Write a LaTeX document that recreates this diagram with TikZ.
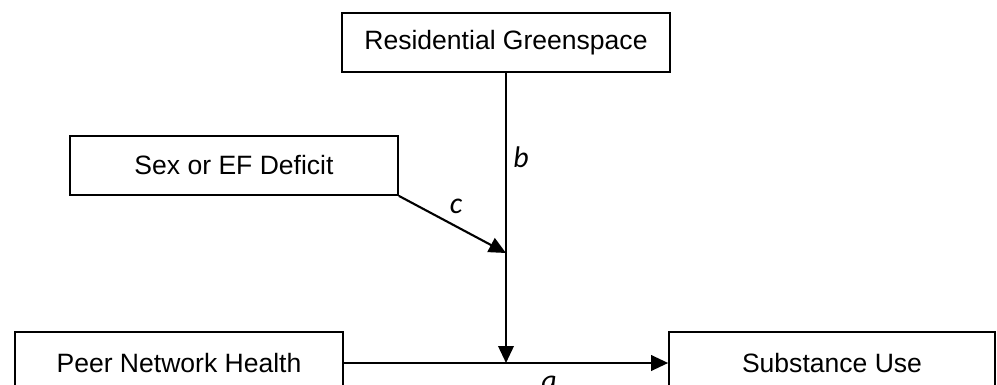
\documentclass[tikz,border=0pt]{standalone}
\usepackage{fontspec}
\setmainfont{Liberation Sans}
\newfontfamily\labelfont{Carlito}
\usetikzlibrary{arrows.meta}

\tikzset{
    varbox/.style={draw, line width=1pt, minimum width=6.56cm, minimum height=1.18cm,
        inner sep=0pt, font=\fontsize{15.1}{17}\selectfont},
    path/.style={line width=1.2pt, -{Triangle[length=0.34cm,width=0.31cm]}},
    pathlabel/.style={font=\labelfont\itshape\fontsize{17}{20}\selectfont}
}

\begin{document}
\begin{tikzpicture}[x=0.02cm, y=-0.02cm]
    \useasboundingbox (0,0) rectangle (997,385);
    \node[varbox] (G) at (506,42.5) {Residential Greenspace};
    \node[varbox] (S) at (234,165.5) {Sex or EF Deficit};
    \node[varbox, minimum height=1.24cm] (P) at (179,363) {Peer Network Health};
    \node[varbox, minimum width=6.52cm, minimum height=1.24cm] (U) at (832,363) {Substance Use};
    \coordinate (M) at (506,363);
    \coordinate (C) at (506,253);
    \draw[path] (P.east) -- (U.west);
    \draw[path] (G.south) -- (M);
    \draw[path] (S.south east) -- (C);
    \node[pathlabel] (b) at (521,157) {b};
    \node[pathlabel] (c) at (456,206) {c};
    \node[pathlabel] (a) at (549,383) {a};
\end{tikzpicture}
\end{document}
